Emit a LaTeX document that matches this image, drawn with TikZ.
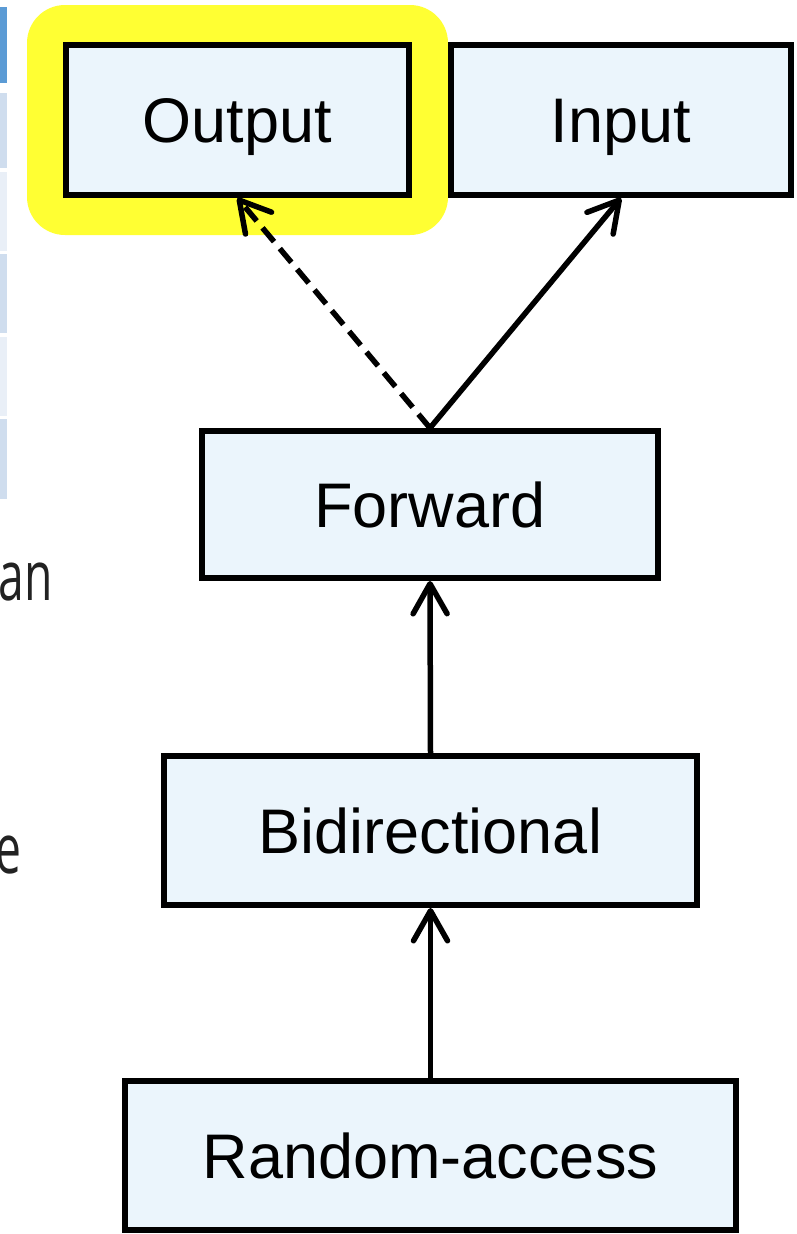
\documentclass[tikz,border=0pt]{standalone}
\usepackage{fontspec}
\setmainfont{Liberation Sans}
\newfontfamily\slidefont{Open Sans}
\usetikzlibrary{arrows.meta}

\definecolor{boxfill}{HTML}{EBF5FC}
\definecolor{hilite}{HTML}{FFFF33}
\definecolor{hdrcell}{HTML}{5B9BD5}
\definecolor{cellA}{HTML}{CFDDEE}
\definecolor{cellB}{HTML}{E9EFF7}
\definecolor{slidetext}{HTML}{222222}

\tikzset{
  level/.style={draw=black, fill=boxfill, line width=6pt, rectangle,
    inner sep=0pt, text height=45pt, text depth=0pt,
    font=\fontsize{63}{75}\selectfont},
  arrowline/.style={line width=5.5pt,
    -{Straight Barb[length=30pt,width=34pt,round]}},
  sidetext/.style={text=slidetext, inner sep=0pt, xscale=0.67,
    font=\slidefont\fontsize{69}{80}\selectfont}
}

\begin{document}
\begin{tikzpicture}[x=1pt,y=-1pt]
  \useasboundingbox (0,0) rectangle (797,1234);
  \clip (0,0) rectangle (797,1234);
  \fill[white] (0,0) rectangle (797,1234);

  % edge of the neighbouring table
  \fill[hdrcell] (0,7)   rectangle (7,83);
  \fill[cellA]   (0,93)  rectangle (7,168);
  \fill[cellB]   (0,172) rectangle (7,251);
  \fill[cellA]   (0,254) rectangle (7,333);
  \fill[cellB]   (0,337) rectangle (7,416);
  \fill[cellA]   (0,419) rectangle (7,499);

  % neighbouring body text, cut by the edge
  \node[sidetext, anchor=base east, transform shape] (txtan) at (53,600) {an};
  \node[sidetext, anchor=base east, transform shape] (txte) at (22,873) {e};

  % highlight behind the Output box
  \fill[hilite, rounded corners=38pt] (27,5) rectangle (448,235);

  % boxes
  \node[level, minimum width=343pt, minimum height=150pt] (out) at (237.5,120) {Output};
  \node[level, minimum width=340pt, minimum height=150pt] (in)  at (621,120)   {Input};
  \node[level, minimum width=456pt, minimum height=147pt] (fwd) at (430,504.5) {Forward};
  \node[level, minimum width=533pt, minimum height=149pt] (bid) at (430.5,830.5) {Bidirectional};
  \node[level, minimum width=611pt, minimum height=149pt] (ran) at (430.5,1155.5) {Random-access};

  % connectors
  \draw[arrowline, dash pattern=on 18pt off 9pt] (fwd.north) -- (out.south);
  \draw[arrowline] (fwd.north) -- (in.south);
  \draw[arrowline] (bid.north) -- (fwd.south);
  \draw[arrowline] (ran.north) -- (bid.south);
\end{tikzpicture}
\end{document}
